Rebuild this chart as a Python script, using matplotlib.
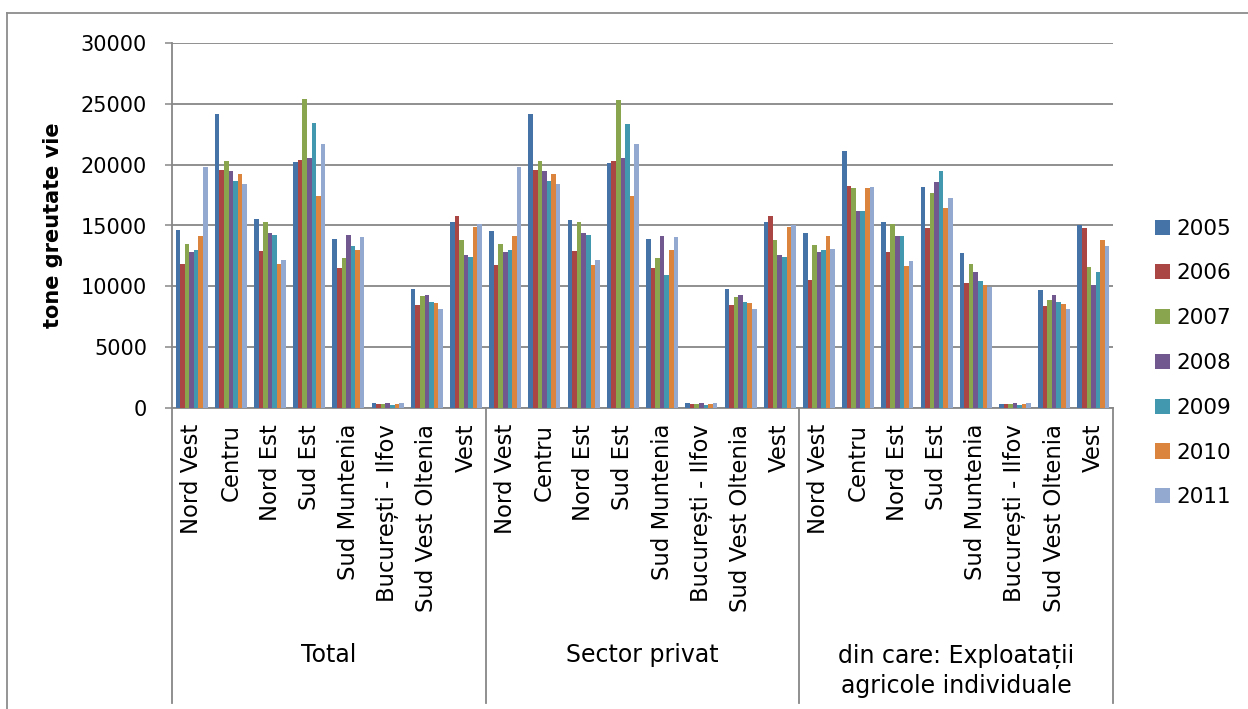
import matplotlib
matplotlib.use("Agg")
import matplotlib.pyplot as plt
import matplotlib.transforms as mtransforms
from matplotlib.lines import Line2D
from matplotlib.patches import Patch
import numpy as np

plt.rcParams['font.family'] = ['DejaVu Sans']

regions = ["Nord Vest", "Centru", "Nord Est", "Sud Est", "Sud Muntenia",
           "București - Ilfov", "Sud Vest Oltenia", "Vest"]
groups = ["Total", "Sector privat", "din care: Exploatații\nagricole individuale"]
years = ["2005", "2006", "2007", "2008", "2009", "2010", "2011"]
colors = ["#4572A7", "#AA4643", "#89A54E", "#71588F", "#4198AF", "#DB843D", "#93A9CF"]

# rows = years (2005..2011), cols = regions
total_vals = [
    [14600, 24150, 15500, 20200, 13900, 380, 9750, 15250],
    [11800, 19550, 12900, 20350, 11500, 330, 8450, 15800],
    [13450, 20300, 15250, 25400, 12300, 330, 9200, 13800],
    [12850, 19450, 14350, 20550, 14200, 380, 9250, 12600],
    [12950, 18650, 14250, 23400, 13350, 280, 8750, 12450],
    [14150, 19250, 11800, 17400, 13000, 330, 8600, 14900],
    [19800, 18450, 12200, 21700, 14050, 380, 8100, 15100],
]
privat_vals = [
    [14550, 24150, 15450, 20150, 13900, 380, 9750, 15250],
    [11750, 19550, 12900, 20300, 11500, 330, 8450, 15800],
    [13450, 20300, 15250, 25350, 12300, 330, 9150, 13800],
    [12850, 19450, 14350, 20550, 14150, 380, 9250, 12600],
    [12950, 18650, 14250, 23350, 10950, 280, 8750, 12400],
    [14100, 19250, 11750, 17400, 13000, 330, 8600, 14900],
    [19800, 18450, 12200, 21700, 14050, 380, 8100, 15050],
]
indiv_vals = [
    [14400, 21150, 15250, 18200, 12700, 360, 9700, 15000],
    [10550, 18250, 12800, 14800, 10250, 330, 8400, 14800],
    [13400, 18050, 15150, 17650, 11850, 330, 8900, 11550],
    [12850, 16200, 14150, 18550, 11200, 380, 9250, 10150],
    [12950, 16200, 14150, 19500, 10450, 270, 8750, 11150],
    [14100, 18100, 11650, 16400, 10100, 330, 8550, 13800],
    [13050, 18200, 12050, 17300, 9950, 380, 8100, 13350],
]
yticks = [0, 5000, 10000, 15000, 20000, 25000, 30000]
ylabel = "tone greutate vie"

W, H = 1248, 709
fig = plt.figure(figsize=(W / 100, H / 100), dpi=100)
ax = fig.add_axes([172 / W, 1 - 408 / H, (1113 - 172) / W, (408 - 43) / H])

grid_c = "#878787"
all_vals = [total_vals, privat_vals, indiv_vals]
nreg = len(regions)
ncat = nreg * len(groups)
bw = 0.1166
for j, yr in enumerate(years):
    xs, hs = [], []
    for g, gv in enumerate(all_vals):
        for r in range(nreg):
            xs.append(g * nreg + r + 0.5 + (j - 3) * bw)
            hs.append(gv[j][r])
    ax.bar(xs, hs, width=bw, color=colors[j], linewidth=0, zorder=3)

ax.set_xlim(0, ncat)
ax.set_ylim(0, 30000)
ax.set_yticks(yticks)
ax.set_yticklabels([str(v) for v in yticks], fontsize=15)
ax.tick_params(axis='y', length=5, width=1.1, color=grid_c, pad=13)
ax.set_xticks([])
ax.grid(axis='y', color=grid_c, linewidth=1.3, zorder=0)
for s in ["top", "right"]:
    ax.spines[s].set_visible(False)
for s in ["left", "bottom"]:
    ax.spines[s].set_color(grid_c)
    ax.spines[s].set_linewidth(1.3)

trans = mtransforms.blended_transform_factory(ax.transData, ax.transAxes)
# region labels
for g in range(len(groups)):
    for r, name in enumerate(regions):
        ax.text(g * nreg + r + 0.5, (408 - 424) / 365, name, transform=trans,
                rotation=90, ha='center', va='top', fontsize=16.4)
# group separators
ybot = (408 - 703) / 365
for g in range(len(groups) + 1):
    ax.add_line(Line2D([g * nreg, g * nreg], [0, ybot], transform=trans,
                       color=grid_c, linewidth=1.3, clip_on=False))
# group labels
for g, gname in enumerate(groups):
    yc = (408 - 655) / 365 if "\n" not in gname else (408 - 671) / 365
    ax.text(g * nreg + nreg / 2, yc, gname, transform=trans, ha='center',
            va='center', fontsize=17, linespacing=1.3)

fig.text(53 / W, 1 - 225 / H, ylabel, rotation=90, ha='center', va='center',
         fontsize=15, fontweight='bold')

# chart border (top and left)
bc = "#8c8c8c"
fig.add_artist(Line2D([7 / W, 7 / W], [0, 1 - 12.7 / H], transform=fig.transFigure,
                      color=bc, linewidth=1.3))
fig.add_artist(Line2D([7 / W, 1], [1 - 12.7 / H, 1 - 12.7 / H], transform=fig.transFigure,
                      color=bc, linewidth=1.3))

handles = [Patch(facecolor=c, edgecolor='none') for c in colors]
fig.legend(handles, years, loc='center left', bbox_to_anchor=(1155 / W, 1 - 363 / H),
           frameon=False, fontsize=15.5, handlelength=0.7, handleheight=0.7,
           handletextpad=0.3, labelspacing=1.15, borderpad=0, borderaxespad=0)

fig.savefig("out.png", dpi=100)
